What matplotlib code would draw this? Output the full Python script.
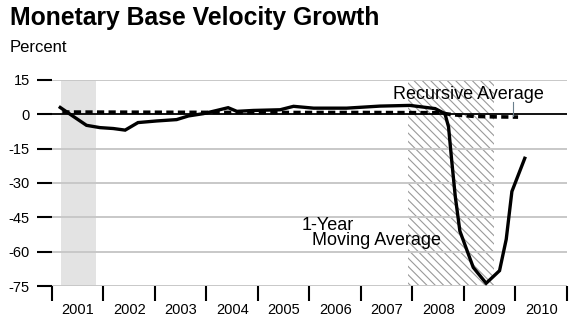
import matplotlib
matplotlib.use("Agg")
import matplotlib.pyplot as plt
from matplotlib.ticker import FixedLocator, NullFormatter

plt.rcParams['font.family'] = ['Liberation Sans', 'DejaVu Sans']
plt.rcParams['hatch.linewidth'] = 0.8
plt.rcParams['hatch.color'] = '#9a9a9a'

# 1-year moving average of monetary base velocity growth (percent)
ma_x = [2001.16, 2001.38, 2001.67, 2001.93, 2002.19, 2002.42, 2002.67, 2003.03,
        2003.42, 2003.65, 2003.94, 2004.20, 2004.42, 2004.59, 2004.91, 2005.43,
        2005.69, 2006.08, 2006.72, 2007.37, 2007.95, 2008.44, 2008.63, 2008.70,
        2008.76, 2008.83, 2008.92, 2009.18, 2009.43, 2009.69, 2009.82, 2009.93,
        2010.18]
ma_y = [3.0, -0.4, -4.8, -5.8, -6.2, -6.9, -3.6, -2.9,
        -2.3, -0.7, 0.3, 1.7, 2.9, 1.3, 1.7, 2.0,
        3.5, 2.7, 2.7, 3.6, 3.9, 2.5, 0.3, -5.5,
        -19.9, -35.8, -51.0, -66.9, -73.8, -68.3, -54.6, -33.7,
        -19.2]

# recursive average
ra_x = [2001.2, 2003.0, 2005.0, 2007.0, 2008.5, 2008.8, 2009.2, 2009.6, 2010.05]
ra_y = [1.0, 0.9, 0.8, 0.8, 0.7, -0.2, -0.9, -1.1, -1.2]

years = list(range(2001, 2011))
yticks = [15, 0, -15, -30, -45, -60, -75]

recession1 = (2001.17, 2001.85)
recession2 = (2007.92, 2009.58)

fig = plt.figure(figsize=(5.8, 3.34), dpi=100)
ax = fig.add_axes([52 / 580, 1 - 286 / 334, (567 - 52) / 580, (286 - 80) / 334])

ax.set_xlim(2001, 2011)
ax.set_ylim(-75, 15)

for v in yticks:
    if v == 0:
        continue
    ax.axhline(v, color='#c8c8c8', lw=1.4, zorder=1)
ax.axhline(0, color='black', lw=1.3, zorder=3)

ax.axvspan(*recession1, color='#e3e3e3', lw=0, zorder=0)
ax.axvspan(*recession2, facecolor='none', edgecolor='#9a9a9a', hatch='\\\\\\\\',
           lw=0, zorder=0)

ax.plot(ra_x, ra_y, color='black', lw=2.6, ls=(0, (2.0, 1.2)), zorder=4)
ax.plot(ma_x, ma_y, color='black', lw=2.4, solid_joinstyle='miter', zorder=5)

for s in ax.spines.values():
    s.set_visible(False)

ax.set_yticks(yticks)
ax.set_yticklabels([str(v) for v in yticks])
ax.tick_params(axis='y', length=11, width=1.5, pad=5, labelsize=10.5, color='black')

ax.xaxis.set_major_locator(FixedLocator([y + 0.5 for y in years]))
ax.set_xticklabels([str(y) for y in years])
ax.xaxis.set_minor_locator(FixedLocator(years + [2011]))
ax.xaxis.set_minor_formatter(NullFormatter())
ax.tick_params(axis='x', which='major', length=0, pad=12, labelsize=10.5)
ax.tick_params(axis='x', which='minor', length=11, width=1.5, color='black')

fig.text(10 / 580, 1 - 18 / 334, 'Monetary Base Velocity Growth', fontsize=17.8,
         fontweight='bold', va='center', ha='left')
fig.text(10 / 580, 1 - 48 / 334, 'Percent', fontsize=12, va='center', ha='left')

ax.text(2007.62, 8.5, 'Recursive Average', fontsize=13, va='center', ha='left')
ax.plot([2009.96, 2009.96], [5.5, -0.8], color='#6a7f8c', lw=0.8, zorder=6)
ax.text(2005.85, -51.8, '1-Year\n  Moving Average', fontsize=13, va='center',
        ha='left', linespacing=0.85)

fig.savefig('out.png', dpi=100)
